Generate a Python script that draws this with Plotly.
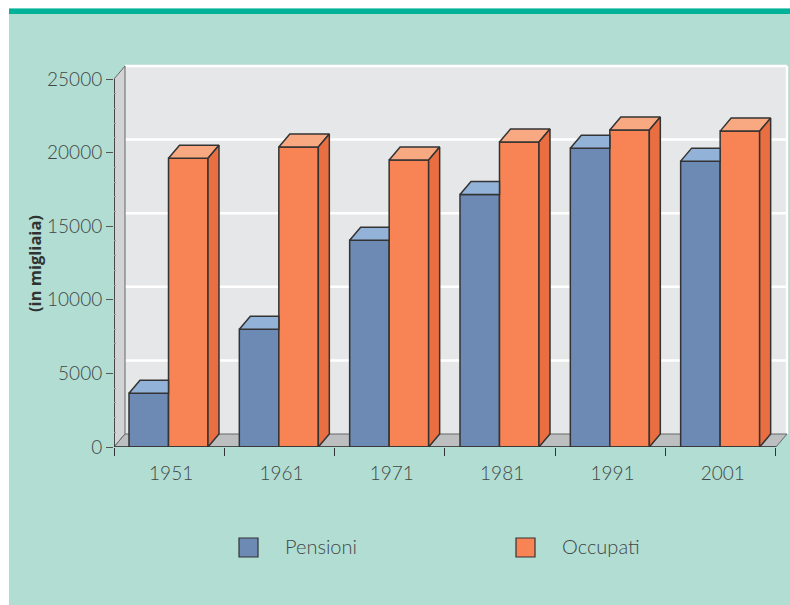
import plotly.graph_objects as go

years = ["1951", "1961", "1971", "1981", "1991", "2001"]
pensioni = [3650, 8000, 14050, 17150, 20300, 19420]
occupati = [19620, 20380, 19500, 20720, 21530, 21460]
y_ticks = [0, 5000, 10000, 15000, 20000, 25000]
y_labels = ["0", "5000", "10000", "15000", "20000", "25000"]
y_minor = [v for v in range(1000, 25000, 1000) if v % 5000]
series_names = ["Pensioni", "Occupati"]

W, H = 790, 605
L, R, T, B = 114, 0, 60, 158
PW, PH = W - L - R, H - T - B
CAT_PX = 110.33
UNIT_PX = 73.6 / 5000
XMAX = PW / CAT_PX
YMAX = PH / UNIT_PX
DX = 11 / CAT_PX      # oblique depth of the 3D projection, in axis units
DY = 13 / UNIT_PX
BW = 0.358
OFF_A, OFF_B = -0.364, -0.006
N = len(years)

BLUE, BLUE_TOP = "#6d8ab5", "#93b2d7"
ORANGE, ORANGE_TOP, ORANGE_SIDE = "#f88355", "#f9a981", "#e96f43"
EDGE = "#333333"
TEXT = "#414746"
FONT = "Lato Light"


def px(x):
    return (x - L) / PW


def py(y):
    return 1 - (y - T) / PH


def poly(xs, ys):
    return "M" + " L".join(f"{a},{b}" for a, b in zip(xs, ys)) + " Z"


shapes = [
    dict(type="rect", xref="paper", yref="paper", x0=px(9), x1=px(W), y0=py(H), y1=py(8.5),
         fillcolor="#b2ddd3", line_width=0, layer="below"),
    dict(type="rect", xref="paper", yref="paper", x0=px(9), x1=px(W), y0=py(14), y1=py(8.5),
         fillcolor="#00b398", line_width=0, layer="below"),
    # back wall
    dict(type="rect", xref="x", yref="y", x0=DX, x1=N + DX, y0=DY, y1=25000 + DY,
         fillcolor="#e6e7e8", line_width=0, layer="below"),
]
for v in y_ticks[1:]:
    shapes.append(dict(type="line", xref="x", yref="y", x0=DX, x1=N + DX, y0=v + DY, y1=v + DY,
                       line=dict(color="#ffffff", width=2.5), layer="below"))
shapes.append(dict(type="line", xref="x", yref="y", x0=N + DX, x1=N + DX, y0=DY, y1=25000 + DY,
                   line=dict(color="#ffffff", width=2.5), layer="below"))
shapes += [
    # left wall
    dict(type="path", xref="x", yref="y", path=poly([0, DX, DX, 0], [0, DY, 25000 + DY, 25000]),
         fillcolor="#d1d3d4", line=dict(color="#666666", width=1), layer="below"),
    # floor
    dict(type="path", xref="x", yref="y", path=poly([0, DX, N + DX, N], [0, DY, DY, 0]),
         fillcolor="#bcbec0", line=dict(color="#666666", width=1), layer="below"),
]
# legend swatches
for left, color in zip((239, 516), (BLUE, ORANGE)):
    shapes.append(dict(type="rect", xref="paper", yref="paper", x0=px(left), x1=px(left + 19),
                       y0=py(557), y1=py(538), fillcolor=color,
                       line=dict(color=EDGE, width=1.2), layer="above"))

fig = go.Figure()
centers = [i + 0.5 for i in range(N)]
label_pos = [c + 0.018 for c in centers]

for name, vals, color, off in ((series_names[0], pensioni, BLUE, OFF_A),
                               (series_names[1], occupati, ORANGE, OFF_B)):
    fig.add_trace(go.Bar(x=centers, y=vals, name=name, width=BW, offset=off, showlegend=False,
                         marker=dict(color=color, line=dict(color=EDGE, width=1.5)),
                         cliponaxis=False, hoverinfo="skip"))


def face(xs, ys, fill):
    fig.add_trace(go.Scatter(x=xs, y=ys, mode="lines", fill="toself", fillcolor=fill,
                             line=dict(color=EDGE, width=1.5), showlegend=False,
                             hoverinfo="skip", cliponaxis=False))


for c, a, b in zip(centers, pensioni, occupati):
    xa, xb, xe = c + OFF_A, c + OFF_B, c + OFF_B + BW
    # visible part of the blue top (the orange bar hides the rest)
    face([xa, xa + DX, xb, xb, xa], [a, a + DY, a + DY, a, a], BLUE_TOP)
    face([xb, xb + DX, xe + DX, xe, xb], [b, b + DY, b + DY, b, b], ORANGE_TOP)
    face([xe, xe + DX, xe + DX, xe, xe], [0, DY, b + DY, b, 0], ORANGE_SIDE)

# axis lines
for xs, ys in (([0, 0], [0, 25000]), ([0, N], [0, 0])):
    fig.add_trace(go.Scatter(x=xs, y=ys, mode="lines", line=dict(color="#333333", width=1.6),
                             showlegend=False, hoverinfo="skip", cliponaxis=False))

annotations = [
    dict(text="(in migliaia)", xref="paper", yref="paper", x=px(34), y=py(264), textangle=-90,
         xanchor="center", yanchor="middle", showarrow=False,
         font=dict(family="Open Sans", size=16.5, weight=700, color="#2f3332")),
]
for label, left in zip(series_names, (283, 560)):
    annotations.append(dict(text=label, xref="paper", yref="paper", x=px(left), y=py(546),
                            xanchor="left", yanchor="middle", showarrow=False,
                            font=dict(family=FONT, size=20, color=TEXT)))

fig.update_layout(
    width=W, height=H, margin=dict(l=L, r=R, t=T, b=B, pad=0),
    paper_bgcolor="#ffffff", plot_bgcolor="rgba(0,0,0,0)",
    barmode="overlay", shapes=shapes, annotations=annotations,
    font=dict(family=FONT, size=19, color=TEXT), showlegend=False,
    xaxis=dict(range=[0, XMAX], tickmode="array", tickvals=label_pos, ticktext=years, ticks="",
               ticklabelstandoff=13, showgrid=False, zeroline=False, showline=False,
               minor=dict(tickmode="linear", tick0=0, dtick=1, ticks="outside", ticklen=8,
                          tickcolor="#333333", tickwidth=1.4, showgrid=False)),
    yaxis=dict(range=[0, YMAX], tickmode="array", tickvals=y_ticks, ticktext=y_labels,
               ticks="outside", ticklen=7,
               tickcolor="#555555", tickwidth=1.4, showgrid=False, zeroline=False, showline=False,
               minor=dict(tickmode="array", tickvals=y_minor, ticks="inside", ticklen=2,
                          tickcolor="#9a9a9a", tickwidth=1, showgrid=False)),
)
fig.write_html("out.html", config=dict(displayModeBar=False),
               post_script="document.body.style.margin='0';document.documentElement.style.overflow='hidden';")
